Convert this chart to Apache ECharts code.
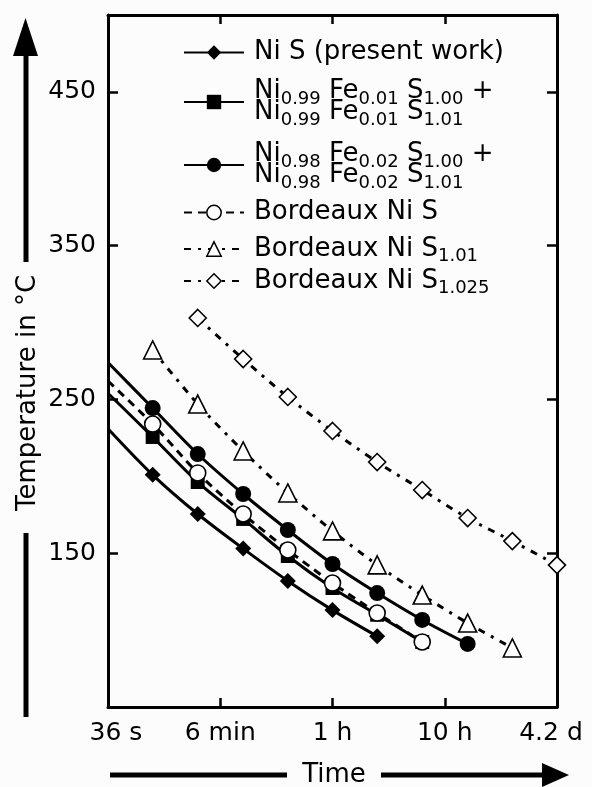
<!DOCTYPE html>
<html>
<head>
<meta charset="utf-8">
<script src="https://cdn.jsdelivr.net/npm/echarts@6/dist/echarts.min.js"></script>
<style>
  html, body { margin: 0; padding: 0; background: #fcfcfc; }
  #chart { width: 592px; height: 787px; }
</style>
</head>
<body>
<div id="chart"></div>
<script>
// Annealing time in hours, 0.4-decade steps (36 s ... 4.2 d)
const hours = [0.01, 0.025, 0.063, 0.16, 0.4, 1, 2.5, 6.3, 16, 40, 100];
const xTickLabels = ['36 s', '6 min', '1 h', '10 h', '4.2 d'];
const yTickValues = [150, 250, 350, 450];

// Temperatures in °C.
// The first four series start at 36 s, where their fitted curve meets the axis (no marker there).
const niS        = [231, 201, 175.5, 153, 132, 113, 96];
const ni099      = [254, 225.6, 196.3, 172.3, 148.2, 127.4, 110, 92.3];
const ni098      = [274, 244.4, 214.5, 188.5, 165.1, 143, 124.1, 106.6, 91];
const bordNiS    = [262, 234, 202.2, 175.5, 152.1, 130.6, 111.1, 92.3];
// These start at their first measured point (0.025 h and 0.063 h).
const bordNiS101  = [282.2, 247, 216.5, 189.2, 164.5, 142.4, 122.8, 104.6, 88.4];
const bordNiS1025 = [303, 276.3, 251.6, 229.5, 209.3, 191.1, 172.9, 157.9, 142.3];

const FONT = 'DejaVu Sans';

function seriesData(values, startIndex, curveStart) {
  return values.map((v, i) => {
    const item = { value: [hours[startIndex + i], v] };
    if (i === 0 && curveStart) item.symbol = 'none';
    return item;
  });
}

const solidLine = { type: 'solid', width: 3, color: '#000' };
const filled = { color: '#000' };
const open = { color: '#fff', borderColor: '#000', borderWidth: 1.6 };

const series = [
  { name: 'Ni S (present work)', data: seriesData(niS, 0, true),
    symbol: 'diamond', symbolSize: 16, itemStyle: filled, lineStyle: solidLine },
  { name: 'Ni0.99Fe0.01S', data: seriesData(ni099, 0, true),
    symbol: 'rect', symbolSize: 14, itemStyle: filled, lineStyle: solidLine },
  { name: 'Ni0.98Fe0.02S', data: seriesData(ni098, 0, true),
    symbol: 'circle', symbolSize: 16, itemStyle: filled, lineStyle: solidLine },
  { name: 'Bordeaux Ni S', data: seriesData(bordNiS, 0, true),
    symbol: 'circle', symbolSize: 16, itemStyle: open,
    lineStyle: { type: [8, 6], width: 3, color: '#000' } },
  { name: 'Bordeaux Ni S1.01', data: seriesData(bordNiS101, 1, false),
    symbol: 'triangle', symbolSize: 18, itemStyle: open,
    lineStyle: { type: [7, 7, 3, 7], width: 3, color: '#000' } },
  { name: 'Bordeaux Ni S1.025', data: seriesData(bordNiS1025, 2, false),
    symbol: 'diamond', symbolSize: 17, itemStyle: open,
    lineStyle: { type: [7, 7, 3, 7], width: 3, color: '#000' } }
].map(s => Object.assign({
  type: 'line', smooth: 0.3, showSymbol: true, showAllSymbol: true,
  animation: false, emphasis: { disabled: true }
}, s));

// Rich-text styles for formulas with subscripts
const rich = {
  m: { fontSize: 26, fontFamily: FONT, color: '#000', lineHeight: 21 },
  s: { fontSize: 18, fontFamily: FONT, color: '#000', lineHeight: 21, padding: [15, 0, 0, 0] }
};

const legendTexts = [
  '{m|Ni S (present work)}',
  '{m|Ni}{s|0.99}{m| Fe}{s|0.01}{m| S}{s|1.00}{m| +}\n{m|Ni}{s|0.99}{m| Fe}{s|0.01}{m| S}{s|1.01}',
  '{m|Ni}{s|0.98}{m| Fe}{s|0.02}{m| S}{s|1.00}{m| +}\n{m|Ni}{s|0.98}{m| Fe}{s|0.02}{m| S}{s|1.01}',
  '{m|Bordeaux Ni S}',
  '{m|Bordeaux Ni S}{s|1.01}',
  '{m|Bordeaux Ni S}{s|1.025}'
];
const legendTops = [39.5, 75, 138, 199.5, 232.5, 264.5];

const legend = series.map((s, i) => ({
  data: [s.name],
  left: 183,
  top: legendTops[i],
  padding: 0,
  itemWidth: 60,
  itemHeight: 18,
  selectedMode: false,
  formatter: () => legendTexts[i],
  itemStyle: { borderWidth: i >= 3 ? 1.5 : 0 },
  textStyle: { fontSize: 26, fontFamily: FONT, color: '#000', padding: [0, 0, 0, 5], rich }
}));

const tickFont = { fontSize: 25, fontFamily: FONT, color: '#000' };
const axisLine = { show: true, onZero: false, lineStyle: { color: '#000', width: 3 } };
const axisTickStyle = { color: '#000', width: 2.5 };

const chart = echarts.init(document.getElementById('chart'), null, { renderer: 'canvas' });
chart.setOption({
  backgroundColor: '#fcfcfc',
  animation: false,
  grid: { left: 108, top: 15, width: 449, height: 692, outerBoundsMode: 'none', containLabel: false },
  xAxis: [
    {
      type: 'log', logBase: 10, min: 0.01, max: 100, position: 'bottom',
      axisLine,
      axisTick: { show: true, inside: true, length: 9, lineStyle: axisTickStyle },
      minorTick: { show: false },
      splitLine: { show: false },
      axisLabel: {
        show: true, margin: 14, ...tickFont,
        formatter: (v) => {
          const i = Math.round(Math.log10(v)) + 2;
          const t = xTickLabels[i];
          if (i === 0) return '{first|' + t + '}';
          if (i === xTickLabels.length - 1) return '{last|' + t + '}';
          return '{mid|' + t + '}';
        },
        rich: {
          first: { ...tickFont, padding: [0, 0, 0, 16] },
          last: { ...tickFont, padding: [0, 12, 0, 0] },
          mid: { ...tickFont }
        }
      }
    },
    {
      type: 'log', logBase: 10, min: 0.01, max: 100, position: 'top',
      axisLine,
      axisTick: { show: true, inside: true, length: 9, lineStyle: axisTickStyle },
      axisLabel: { show: false },
      splitLine: { show: false }
    }
  ],
  yAxis: [
    {
      type: 'value', min: 50, max: 500, position: 'left',
      axisLine,
      axisTick: { show: true, inside: true, length: 10, lineStyle: axisTickStyle, customValues: yTickValues },
      axisLabel: { show: true, margin: 12, ...tickFont, customValues: yTickValues },
      splitLine: { show: false }
    },
    {
      type: 'value', min: 50, max: 500, position: 'right',
      axisLine,
      axisTick: { show: true, inside: true, length: 10, lineStyle: axisTickStyle, customValues: yTickValues },
      axisLabel: { show: false },
      splitLine: { show: false }
    }
  ],
  legend,
  series,
  graphic: [
    // Temperature arrow with its caption
    { type: 'line', shape: { x1: 26, y1: 717, x2: 26, y2: 533 }, style: { stroke: '#000', lineWidth: 5 } },
    { type: 'line', shape: { x1: 26, y1: 262, x2: 26, y2: 50 }, style: { stroke: '#000', lineWidth: 5 } },
    { type: 'polygon', shape: { points: [[13, 56], [38, 56], [25.5, 18]] }, style: { fill: '#000' } },
    { type: 'text', x: 28, y: 393, rotation: Math.PI / 2,
      style: { text: 'Temperature in °C', fontSize: 26, fontFamily: FONT, fill: '#000', align: 'center', verticalAlign: 'middle' } },
    // Time arrow with its caption
    { type: 'line', shape: { x1: 110, y1: 775, x2: 287, y2: 775 }, style: { stroke: '#000', lineWidth: 5 } },
    { type: 'text', x: 334, y: 775,
      style: { text: 'Time', fontSize: 26, fontFamily: FONT, fill: '#000', align: 'center', verticalAlign: 'middle' } },
    { type: 'line', shape: { x1: 381, y1: 775, x2: 546, y2: 775 }, style: { stroke: '#000', lineWidth: 5 } },
    { type: 'polygon', shape: { points: [[542, 763], [542, 787], [569, 775]] }, style: { fill: '#000' } }
  ]
});
</script>
</body>
</html>
